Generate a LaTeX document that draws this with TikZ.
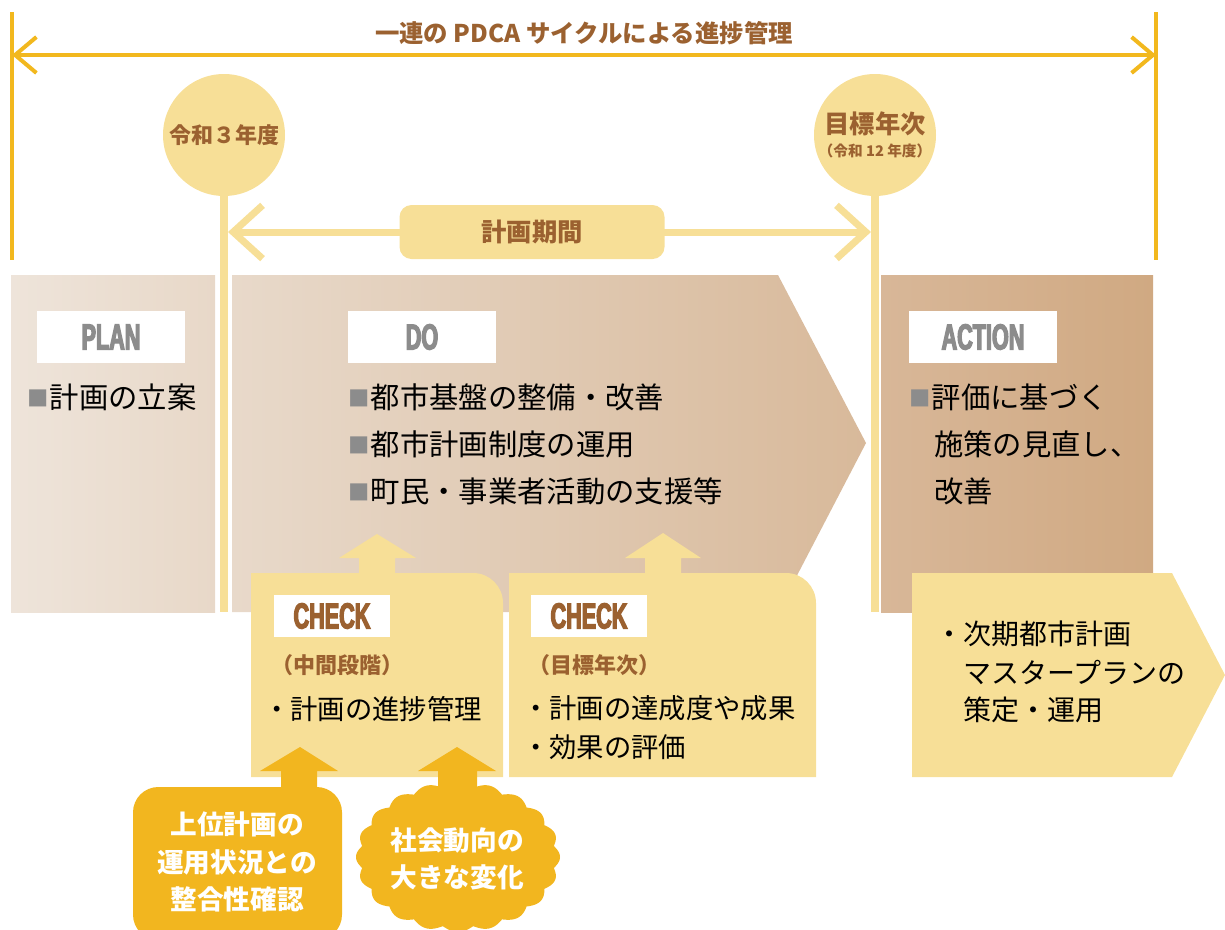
\documentclass[tikz,border=0pt]{standalone}
\usepackage{fontspec}
\setmainfont{Noto Sans CJK JP}
\newfontfamily\condf{Liberation Sans}[UprightFont={* Bold},FakeStretch=0.6,FakeBold=3.5]
\usetikzlibrary{arrows.meta}
\definecolor{goldL}{HTML}{F2B81E}
\definecolor{lightY}{HTML}{F7DF97}
\definecolor{brownT}{HTML}{9B6130}
\definecolor{grayT}{HTML}{8C8C8C}
\definecolor{orangeB}{HTML}{F2B61F}
\tikzset{
  goldline/.style={draw=goldL,line width=3pt},
  goldarrow/.style={goldline,{Straight Barb[length=16pt,width=27pt]}-{Straight Barb[length=16pt,width=27pt]}},
  yline/.style={draw=lightY,line width=6pt},
  periodarrow/.style={draw=lightY,line width=5.25pt,{Straight Barb[length=22pt,width=40pt]}-{Straight Barb[length=22pt,width=40pt]}},
  yearcircle/.style={circle,fill=lightY,minimum size=91.5pt,inner sep=0pt,text=brownT,font=\bfseries\fontsize{16.5}{20}\selectfont,align=center},
  whitelabel/.style={fill=white,minimum width=111pt,minimum height=39pt,inner sep=0pt,text=grayT,font=\condf\fontsize{27}{30}\selectfont},
  checklabel/.style={fill=white,minimum width=87pt,minimum height=31.5pt,inner sep=0pt,text=brownT,font=\condf\fontsize{27}{30}\selectfont},
  bodytext/.style={anchor=west,inner sep=0pt,font=\fontsize{22}{26}\selectfont},
  checktext/.style={anchor=west,inner sep=0pt,font=\fontsize{20.5}{24}\selectfont},
  checksub/.style={anchor=west,inner sep=0pt,text=brownT,font=\bfseries\fontsize{16.5}{20}\selectfont},
  whitebold/.style={text=white,align=center,font=\bfseries\fontsize{20}{28}\selectfont},
}
\newcommand{\gsq}{\raisebox{1.2pt}{\color{grayT}\fontsize{16}{18}\selectfont ■}\hspace{1pt}}
\begin{document}
\begin{tikzpicture}[x=0.75pt,y=-0.75pt]
\useasboundingbox (0,0) rectangle (1225,929);

% ---- top span arrow ----
\coordinate (tl) at (12,12); \coordinate (bl) at (12,260);
\coordinate (tr) at (1156,12); \coordinate (br) at (1156,260);
\coordinate (al) at (12,55); \coordinate (ar) at (1156,55);
\draw[goldline] (tl) -- (bl);
\draw[goldline] (tr) -- (br);
\draw[goldarrow] (al) -- (ar);
\node[text=brownT,font=\bfseries\fontsize{18.3}{22}\selectfont] (title) at (584,33) {一連の PDCA サイクルによる進捗管理};

% ---- phase boxes ----
\shade[left color={rgb,255:red,238;green,228;blue,218},right color={rgb,255:red,232;green,216;blue,200}]
  (11,275) rectangle (215,612);
\shade[left color={rgb,255:red,232;green,217;blue,202},right color={rgb,255:red,216;green,185;blue,154}]
  (232,275) -- (778,275) -- (866,443) -- (778,612) -- (232,612) -- cycle;
\shade[left color={rgb,255:red,216;green,183;blue,152},right color={rgb,255:red,208;green,169;blue,130}]
  (881,275) rectangle (1153,612);

% ---- year markers ----
\node[yearcircle] (y3) at (224,135) {令和３年度};
\node[yearcircle] (y12) at (875,135) {{\fontsize{19}{22}\selectfont 目標年次}\\[-3pt]{\fontsize{11}{13}\selectfont （令和 12 年度）}};
\coordinate (y3b) at (224,612);
\coordinate (y12b) at (875,612);
\draw[yline] (y3.south) -- (y3b);
\draw[yline] (y12.south) -- (y12b);

% ---- planning period ----
\coordinate (pl) at (228,232); \coordinate (pr) at (871,232);
\draw[periodarrow] (pl) -- (pr);
\node[fill=lightY,rounded corners=9pt,minimum width=198.75pt,minimum height=40.5pt,text=brownT,font=\bfseries\fontsize{19}{22}\selectfont] (period) at (532,232) {計画期間};

% ---- labels ----
\node[whitelabel] (plan) at (111,337) {PLAN};
\node[whitelabel] (do) at (422,337) {DO};
\node[whitelabel] (action) at (983,337) {ACTION};

\node[bodytext] (p1) at (27,397) {\gsq 計画の立案};
\node[bodytext] (d1) at (348,397) {\gsq 都市基盤の整備・改善};
\node[bodytext] (d2) at (348,444) {\gsq 都市計画制度の運用};
\node[bodytext] (d3) at (348,491) {\gsq 町民・事業者活動の支援等};
\node[bodytext] (a1) at (909,397) {\gsq 評価に基づく};
\node[bodytext] (a2) at (934,444) {施策の見直し、};
\node[bodytext] (a3) at (934,491) {改善};

% ---- yellow up arrows into DO ----
\fill[lightY] (359,580) -- (359,558) -- (339,558) -- (377,534) -- (416,558) -- (395,558) -- (395,580) -- cycle;
\fill[lightY] (645,580) -- (645,558) -- (625,558) -- (663,533) -- (701,558) -- (681,558) -- (681,580) -- cycle;

% ---- CHECK boxes ----
\fill[lightY] (251,777) -- (251,573) [rounded corners=22.5pt] -- (503,573) [sharp corners] -- (503,777) -- cycle;
\fill[lightY] (509,777) -- (509,573) [rounded corners=22.5pt] -- (816,573) [sharp corners] -- (816,777) -- cycle;
\node[checklabel] (c1) at (332,616) {CHECK};
\node[checklabel] (c2) at (589,616) {CHECK};
\node[checksub] (c1s) at (271,665) {（中間段階）};
\node[checksub] (c2s) at (528,665) {（目標年次）};
\node[checktext] (c1t) at (263,709) {・計画の進捗管理};
\node[checktext] (c2t) at (522,708) {・計画の達成度や成果};
\node[checktext] (c2u) at (522,747) {・効果の評価};

% ---- next plan arrow ----
\fill[lightY] (912,573) -- (1172,573) -- (1225,675) -- (1172,777) -- (912,777) -- cycle;
\node[checktext,font=\fontsize{21}{24}\selectfont] (n1) at (935,634) {・次期都市計画};
\node[checktext,font=\fontsize{21}{24}\selectfont] (n2) at (963,672) {マスタープランの};
\node[checktext,font=\fontsize{21}{24}\selectfont] (n3) at (963,710) {策定・運用};

% ---- orange inputs ----
\fill[orangeB] (281,800) -- (281,771) -- (260,771) -- (300,747) -- (338,771) -- (317,771) -- (317,800) -- cycle;
\fill[orangeB] (438,800) -- (438,771) -- (418,771) -- (457,747) -- (496,771) -- (477,771) -- (477,800) -- cycle;
\fill[orangeB,rounded corners=19pt] (133,787) rectangle (342,940);
\node[whitebold] (upper) at (237,862) {上位計画の\\運用状況との\\整合性確認};
\fill[orangeB] plot[domain=0:360,samples=721,variable=\t]
  ({458+(97+5*abs(cos(10*\t)))*cos(\t)},{857+(70+5*abs(cos(10*\t)))*sin(\t)}) -- cycle;
\node[whitebold] (social) at (457,859) {社会動向の\\大きな変化};
\end{tikzpicture}
\end{document}
